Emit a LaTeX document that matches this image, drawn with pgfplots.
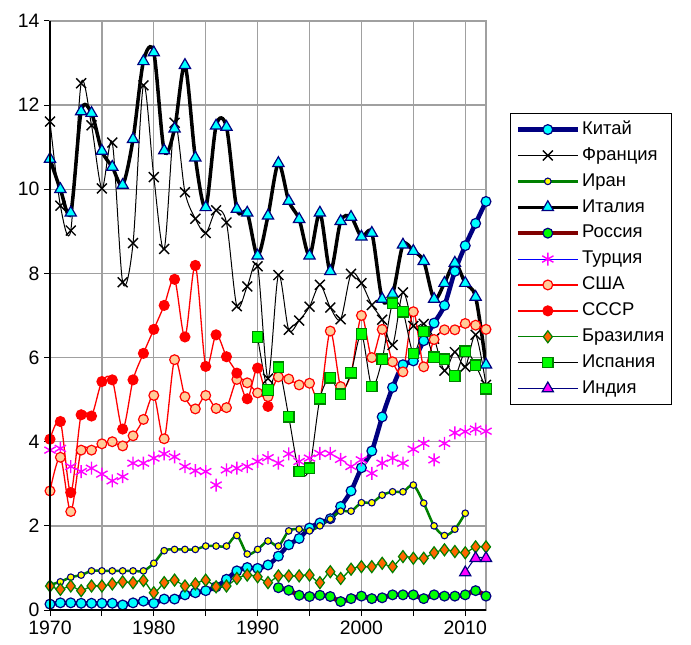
\documentclass[border=0pt]{standalone}
\usepackage{fontspec}
\setmainfont{Liberation Sans}
\usepackage{pgfplots}
\pgfplotsset{compat=1.18}
\definecolor{navyc}{HTML}{000080}
\definecolor{cyanc}{HTML}{00FFFF}
\definecolor{greenc}{HTML}{008000}
\definecolor{limec}{HTML}{00FF00}
\definecolor{yellowc}{HTML}{FFFF00}
\definecolor{maroonc}{HTML}{800000}
\definecolor{magentac}{HTML}{FF00FF}
\definecolor{bluec}{HTML}{0000FF}
\definecolor{redc}{HTML}{FF0000}
\definecolor{peachc}{HTML}{FFCC99}
\definecolor{orangec}{HTML}{FF6600}
\definecolor{gridc}{HTML}{A0A0A0}
\begin{document}
\begin{tikzpicture}
\begin{axis}[
  name=ax, scale only axis, width=436bp, height=589bp,
  xmin=1970, xmax=2012, ymin=0, ymax=14,
  xtick={1970,1975,...,2010},
  xticklabels={1970,,1980,,1990,,2000,,2010},
  ytick={0,2,...,14},
  grid=major, grid style={draw=gridc, line width=1.3bp},
  axis line style={draw=gridc, line width=1.3bp},
  tick pos=left, tick align=outside, major tick length=6bp,
  tick style={black, line width=1bp},
  ticklabel style={font=\fontsize{19.5}{22}\selectfont},
  x tick label style={yshift=-1.5bp},
  y tick label style={xshift=-1bp},
  /pgf/number format/assume math mode=true,
  every axis plot/.append style={smooth, tension=0.5},
  legend cell align=left,
  legend style={at={(1.055,0.8438)}, anchor=north west, draw=black, line width=1.2bp,
    fill=white, font=\fontsize{18.5}{20}\selectfont, inner xsep=5bp, inner ysep=3bp,
    nodes={inner xsep=2bp, inner ysep=4.2bp, text height=13.5bp, text depth=4bp}},
  legend image code/.code={\draw[mark repeat=2,mark phase=2,#1] plot coordinates {(0bp,0bp) (30bp,0bp) (60bp,0bp)};},
  after end axis/.code={\draw[black, line width=1.6bp] (rel axis cs:0,1) -- (rel axis cs:0,0) -- (rel axis cs:1,0);},
]
% China
\addplot[navyc, line width=4.5bp, mark=*, mark size=4.9bp, mark options={fill=cyanc, draw=navyc, line width=1.2bp}] coordinates {
(1970,0.14)(1971,0.17)(1972,0.17)(1973,0.16)(1974,0.16)(1975,0.16)(1976,0.16)(1977,0.12)(1978,0.17)(1979,0.21)
(1980,0.16)(1981,0.26)(1982,0.26)(1983,0.36)(1984,0.41)(1985,0.46)(1986,0.55)(1987,0.73)(1988,0.93)(1989,1.01)
(1990,0.99)(1991,1.07)(1992,1.28)(1993,1.55)(1994,1.70)(1995,1.95)(1996,2.07)(1997,2.17)(1998,2.46)(1999,2.83)
(2000,3.38)(2001,3.78)(2002,4.59)(2003,5.29)(2004,5.83)(2005,5.92)(2006,6.40)(2007,6.82)(2008,7.24)(2009,8.05)
(2010,8.66)(2011,9.19)(2012,9.71)};
% France
\addplot[black, line width=1bp, mark=x, mark size=7bp, mark options={line width=1.4bp}] coordinates {
(1970,11.61)(1971,9.61)(1972,9.02)(1973,12.52)(1974,11.52)(1975,10.02)(1976,11.11)(1977,7.79)(1978,8.72)(1979,12.47)
(1980,10.29)(1981,8.58)(1982,11.58)(1983,9.93)(1984,9.30)(1985,8.96)(1986,9.50)(1987,9.21)(1988,7.22)(1989,7.69)
(1990,8.17)(1991,5.50)(1992,7.96)(1993,6.66)(1994,6.88)(1995,7.21)(1996,7.73)(1997,7.19)(1998,6.91)(1999,7.99)
(2000,7.77)(2001,7.25)(2002,6.90)(2003,6.30)(2004,7.55)(2005,6.75)(2006,6.80)(2007,6.45)(2008,5.69)(2009,6.13)
(2010,5.78)(2011,6.54)(2012,5.35)};
% Iran
\addplot[greenc, line width=2.5bp, mark=*, mark size=3.3bp, mark options={fill=yellowc, draw=navyc, line width=1.1bp}] coordinates {
(1970,0.60)(1971,0.67)(1972,0.78)(1973,0.83)(1974,0.93)(1975,0.93)(1976,0.93)(1977,0.93)(1978,0.93)(1979,0.93)
(1980,1.11)(1981,1.41)(1982,1.44)(1983,1.44)(1984,1.44)(1985,1.52)(1986,1.52)(1987,1.52)(1988,1.77)(1989,1.33)
(1990,1.44)(1991,1.64)(1992,1.52)(1993,1.88)(1994,1.92)(1995,1.88)(1996,2.00)(1997,2.16)(1998,2.35)(1999,2.35)
(2000,2.55)(2001,2.55)(2002,2.73)(2003,2.81)(2004,2.81)(2005,2.97)(2006,2.54)(2007,2.00)(2008,1.77)(2009,1.92)
(2010,2.30)};
% Italy
\addplot[black, line width=3.5bp, mark=triangle*, mark size=6.5bp, mark options={fill=cyanc, draw=navyc, line width=1.2bp}] coordinates {
(1970,10.72)(1971,10.00)(1972,9.44)(1973,11.85)(1974,11.81)(1975,10.91)(1976,10.53)(1977,10.10)(1978,11.19)(1979,13.04)
(1980,13.25)(1981,10.92)(1982,11.44)(1983,12.95)(1984,10.75)(1985,9.57)(1986,11.51)(1987,11.48)(1988,9.53)(1989,9.44)
(1990,8.42)(1991,9.37)(1992,10.62)(1993,9.72)(1994,9.29)(1995,8.42)(1996,9.44)(1997,8.05)(1998,9.24)(1999,9.34)
(2000,8.87)(2001,8.96)(2002,7.39)(2003,7.51)(2004,8.68)(2005,8.53)(2006,8.29)(2007,7.39)(2008,7.77)(2009,8.25)
(2010,7.77)(2011,7.44)(2012,5.83)};
% Russia
\addplot[maroonc, line width=4.5bp, mark=*, mark size=4.9bp, mark options={fill=limec, draw=navyc, line width=1.2bp}] coordinates {
(1992,0.53)(1993,0.47)(1994,0.35)(1995,0.32)(1996,0.35)(1997,0.32)(1998,0.20)(1999,0.27)
(2000,0.33)(2001,0.27)(2002,0.29)(2003,0.36)(2004,0.36)(2005,0.36)(2006,0.27)(2007,0.36)(2008,0.33)(2009,0.33)
(2010,0.36)(2011,0.46)(2012,0.33)};
% Turkey
\addlegendimage{bluec, line width=1bp, mark=asterisk, mark size=6.5bp, mark options={draw=magentac, line width=1.4bp}}
\addplot[forget plot, white, line width=1.5bp, mark=asterisk, mark size=6.5bp, mark options={draw=magentac, line width=1.4bp}] coordinates {
(1970,3.80)(1971,3.84)(1972,3.41)(1973,3.29)(1974,3.37)(1975,3.23)(1976,3.07)(1977,3.17)(1978,3.49)(1979,3.49)
(1980,3.61)(1981,3.71)(1982,3.64)(1983,3.41)(1984,3.31)(1985,3.29)(1986,2.97)(1987,3.33)(1988,3.37)(1989,3.41)
(1990,3.53)(1991,3.62)(1992,3.49)(1993,3.71)(1994,3.53)(1995,3.61)(1996,3.72)(1997,3.72)(1998,3.58)(1999,3.41)
(2000,3.57)(2001,3.25)(2002,3.49)(2003,3.61)(2004,3.49)(2005,3.82)(2006,3.96)(2007,3.57)(2008,3.96)(2009,4.21)
(2010,4.24)(2011,4.30)(2012,4.25)};
% USA
\addplot[redc, line width=1.3bp, mark=*, mark size=4.9bp, mark options={fill=peachc, draw=redc, line width=1.2bp}] coordinates {
(1970,2.83)(1971,3.63)(1972,2.34)(1973,3.80)(1974,3.80)(1975,3.95)(1976,4.00)(1977,3.90)(1978,4.14)(1979,4.53)
(1980,5.10)(1981,4.07)(1982,5.95)(1983,5.07)(1984,4.78)(1985,5.10)(1986,4.79)(1987,4.81)(1988,5.48)(1989,5.40)
(1990,5.16)(1991,5.07)(1992,5.54)(1993,5.49)(1994,5.35)(1995,5.39)(1996,5.02)(1997,6.63)(1998,5.31)(1999,5.62)
(2000,7.00)(2001,6.00)(2002,6.67)(2003,5.90)(2004,5.66)(2005,7.09)(2006,5.78)(2007,6.43)(2008,6.66)(2009,6.66)
(2010,6.81)(2011,6.77)(2012,6.67)};
% USSR
\addplot[redc, line width=1.3bp, mark=*, mark size=4.9bp, mark options={fill=redc, draw=redc}] coordinates {
(1970,4.06)(1971,4.48)(1972,2.79)(1973,4.64)(1974,4.61)(1975,5.43)(1976,5.47)(1977,4.30)(1978,5.47)(1979,6.10)
(1980,6.67)(1981,7.24)(1982,7.86)(1983,6.49)(1984,8.19)(1985,5.79)(1986,6.54)(1987,6.02)(1988,5.63)(1989,5.02)
(1990,5.75)(1991,4.84)};
% Brazil
\addplot[greenc, line width=1.3bp, mark=diamond*, mark size=6bp, mark options={fill=orangec, draw=greenc, line width=1.2bp}] coordinates {
(1970,0.57)(1971,0.49)(1972,0.57)(1973,0.46)(1974,0.57)(1975,0.57)(1976,0.62)(1977,0.67)(1978,0.65)(1979,0.70)
(1980,0.41)(1981,0.65)(1982,0.71)(1983,0.57)(1984,0.62)(1985,0.71)(1986,0.55)(1987,0.57)(1988,0.75)(1989,0.83)
(1990,0.79)(1991,0.65)(1992,0.81)(1993,0.81)(1994,0.81)(1995,0.83)(1996,0.65)(1997,0.91)(1998,0.75)(1999,0.97)
(2000,1.03)(2001,1.03)(2002,1.11)(2003,1.03)(2004,1.27)(2005,1.23)(2006,1.23)(2007,1.36)(2008,1.43)(2009,1.39)
(2010,1.36)(2011,1.50)(2012,1.50)};
% Spain
\addplot[black, line width=1bp, mark=square*, mark size=5.2bp, mark options={fill=limec, draw=greenc, line width=1.2bp}] coordinates {
(1990,6.49)(1991,5.23)(1992,5.77)(1993,4.59)(1994,3.29)(1995,3.37)(1996,5.02)(1997,5.52)(1998,5.13)(1999,5.64)
(2000,6.56)(2001,5.31)(2002,5.96)(2003,7.29)(2004,7.09)(2005,6.10)(2006,6.62)(2007,6.01)(2008,5.96)(2009,5.56)
(2010,6.15)(2011,5.82)(2012,5.26)};
% India
\addplot[navyc, line width=1bp, mark=triangle*, mark size=6.5bp, mark options={fill=magentac, draw=navyc, line width=1.2bp}] coordinates {
(2010,0.89)(2011,1.23)(2012,1.23)};
\legend{Китай,Франция,Иран,Италия,Россия,Турция,США,СССР,Бразилия,Испания,Индия}
\end{axis}
\pgfresetboundingbox
\path ([xshift=-50bp,yshift=-35bp]ax.south west) rectangle ([xshift=205bp,yshift=21bp]ax.north east);
\end{tikzpicture}
\end{document}
